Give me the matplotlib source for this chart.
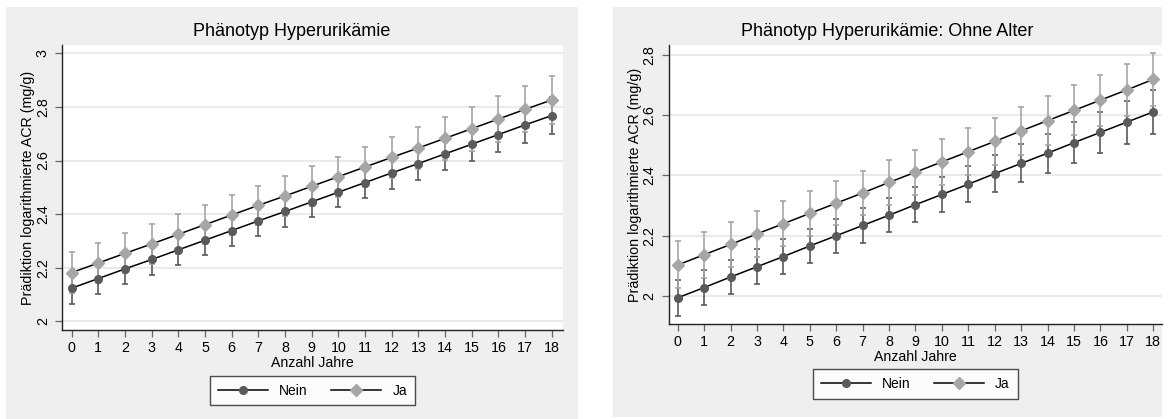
import matplotlib.pyplot as plt
from matplotlib.patches import Rectangle

plt.rcParams["font.family"] = ["Liberation Sans", "DejaVu Sans"]

# Data
jahre = list(range(19))

# left panel: Phänotyp Hyperurikämie
nein_l = [2.124, 2.160, 2.196, 2.231, 2.267, 2.303, 2.339, 2.375, 2.410, 2.446,
          2.482, 2.518, 2.554, 2.589, 2.625, 2.661, 2.697, 2.733, 2.768]
nein_l_ci = [0.059, 0.058, 0.058, 0.057, 0.057, 0.056, 0.056, 0.056, 0.056, 0.056,
             0.057, 0.058, 0.059, 0.061, 0.062, 0.064, 0.066, 0.068, 0.070]
ja_l = [2.182, 2.218, 2.254, 2.289, 2.325, 2.361, 2.397, 2.433, 2.468, 2.504,
        2.540, 2.576, 2.612, 2.647, 2.683, 2.719, 2.755, 2.791, 2.826]
ja_l_ci = [0.077, 0.076, 0.075, 0.074, 0.074, 0.073, 0.073, 0.073, 0.073, 0.074,
           0.075, 0.076, 0.077, 0.078, 0.080, 0.082, 0.084, 0.086, 0.088]

# right panel: ohne Alter
nein_r = [1.994, 2.028, 2.063, 2.097, 2.131, 2.166, 2.200, 2.234, 2.268, 2.303,
          2.337, 2.371, 2.406, 2.440, 2.474, 2.509, 2.543, 2.577, 2.611]
nein_r_ci = [0.060, 0.059, 0.058, 0.058, 0.057, 0.057, 0.057, 0.057, 0.057, 0.058,
             0.059, 0.060, 0.061, 0.063, 0.065, 0.067, 0.069, 0.071, 0.073]
ja_r = [2.103, 2.137, 2.171, 2.206, 2.240, 2.274, 2.308, 2.342, 2.377, 2.411,
        2.445, 2.479, 2.513, 2.548, 2.582, 2.616, 2.650, 2.684, 2.719]
ja_r_ci = [0.078, 0.077, 0.076, 0.075, 0.074, 0.074, 0.074, 0.074, 0.074, 0.075,
           0.076, 0.077, 0.078, 0.080, 0.081, 0.083, 0.085, 0.087, 0.088]

yticks_l = [2, 2.2, 2.4, 2.6, 2.8, 3]
yticklabels_l = ["2", "2.2", "2.4", "2.6", "2.8", "3"]
yticks_r = [2, 2.2, 2.4, 2.6, 2.8]
yticklabels_r = ["2", "2.2", "2.4", "2.6", "2.8"]

W, H = 1168, 419
fig = plt.figure(figsize=(W / 100, H / 100), dpi=100)
fig.patch.set_facecolor("white")

DARK = "#5a5a5a"
LIGHT = "#a6a6a6"
PANEL = "#efefef"


def px_rect(x0, y0, x1, y1):
    # pixel box (top-left origin) -> figure fraction
    return [x0 / W, 1 - y1 / H, (x1 - x0) / W, (y1 - y0) / H]


def panel(bg, ax_box, xlim, ylim, yticks, yticklabels, data, title, title_xy,
          ylab_x, xlab_y, leg_y):
    r = px_rect(*bg)
    fig.patches.append(Rectangle((r[0], r[1]), r[2], r[3], transform=fig.transFigure,
                                 facecolor=PANEL, edgecolor="none", zorder=-10))
    ax = fig.add_axes(px_rect(*ax_box))
    ax.set_facecolor("white")
    nein, nein_ci, ja, ja_ci = data

    ax.errorbar(jahre, nein, yerr=nein_ci, fmt="none", ecolor=DARK, elinewidth=1.2,
                capsize=2.3, capthick=1.2, zorder=2)
    ax.errorbar(jahre, ja, yerr=ja_ci, fmt="none", ecolor=LIGHT, elinewidth=1.2,
                capsize=2.3, capthick=1.2, zorder=2)
    ax.plot(jahre, nein, color="black", lw=1.1, marker="o", ms=5.5,
            markerfacecolor=DARK, markeredgecolor=DARK, label="Nein", zorder=3)
    ax.plot(jahre, ja, color="black", lw=1.1, marker="D", ms=6.3,
            markerfacecolor=LIGHT, markeredgecolor=LIGHT, label="Ja", zorder=3)

    ax.set_xlim(*xlim)
    ax.set_ylim(*ylim)
    ax.set_xticks(jahre)
    ax.set_yticks(yticks)
    ax.set_yticklabels(yticklabels, rotation=90, va="center")
    ax.grid(axis="y", color="#e6e6e6", lw=1.2)
    ax.set_axisbelow(True)
    for s in ["top", "right"]:
        ax.spines[s].set_visible(False)
    for s in ["left", "bottom"]:
        ax.spines[s].set_color("#222222")
        ax.spines[s].set_linewidth(1.0)
    ax.tick_params(axis="both", labelsize=10.3, length=5, width=0.9, color="#666666")
    ax.tick_params(axis="x", pad=2.9)
    ax.tick_params(axis="y", pad=4)

    x0, x1 = ax_box[0], ax_box[2]
    ax.set_ylabel("Prädiktion logarithmierte ACR (mg/g)", fontsize=10.3)
    ax.yaxis.set_label_coords((ylab_x - x0) / (x1 - x0), 0.5)

    fig.text(title_xy[0] / W, 1 - title_xy[1] / H, title, fontsize=13,
             ha="center", va="center")
    fig.text((x0 + x1) / 2 / W, 1 - xlab_y / H, "Anzahl Jahre", fontsize=10.2,
             ha="center", va="center")
    leg = ax.legend(loc="center", bbox_to_anchor=((x0 + x1) / 2 / W, 1 - leg_y / H),
                    bbox_transform=fig.transFigure, ncol=2, fontsize=10,
                    frameon=True, fancybox=False, handlelength=3.6,
                    handletextpad=0.8, columnspacing=1.7, borderpad=0.55,
                    numpoints=1)
    leg.get_frame().set_edgecolor("#222222")
    leg.get_frame().set_linewidth(1.0)
    return ax


panel((6, 7, 578, 419), (62.3, 45, 563, 330), (-0.352, 18.42), (1.968, 3.031),
      yticks_l, yticklabels_l, (nein_l, nein_l_ci, ja_l, ja_l_ci),
      "Phänotyp Hyperurikämie", (292, 32), 35.5, 363.2, 390.5)
panel((612.7, 7, 1162, 417), (669, 45, 1161.7, 324.3), (-0.33, 18.32), (1.906, 2.833),
      yticks_r, yticklabels_r, (nein_r, nein_r_ci, ja_r, ja_r_ci),
      "Phänotyp Hyperurikämie: Ohne Alter", (887, 32), 642, 357.2, 384)

fig.savefig("out.png", dpi=100)
